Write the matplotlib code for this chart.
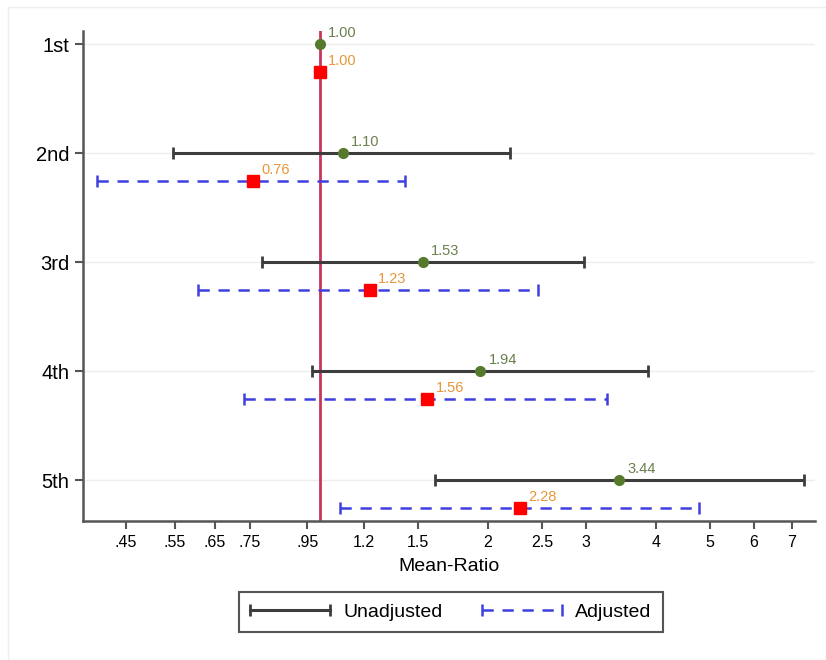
import numpy as np
import matplotlib
matplotlib.use("Agg")
from matplotlib import pyplot as plt
from matplotlib.patches import Rectangle
from matplotlib.lines import Line2D
from matplotlib.legend_handler import HandlerLine2D

plt.rcParams['font.family'] = ['Liberation Sans', 'DejaVu Sans']

# quintile groups, top to bottom
groups = ["1st", "2nd", "3rd", "4th", "5th"]

# unadjusted mean ratios and 95% CI (1st is the reference)
unadj_est = [1.00, 1.10, 1.53, 1.94, 3.44]
unadj_lo = [np.nan, 0.547, 0.790, 0.968, 1.608]
unadj_hi = [np.nan, 2.19, 2.97, 3.88, 7.37]

# adjusted mean ratios and 95% CI
adj_est = [1.00, 0.76, 1.23, 1.56, 2.28]
adj_lo = [np.nan, 0.399, 0.605, 0.731, 1.087]
adj_hi = [np.nan, 1.42, 2.46, 3.27, 4.78]

xticks = [0.45, 0.55, 0.65, 0.75, 0.95, 1.2, 1.5, 2, 2.5, 3, 4, 5, 6, 7]
xticklabels = [".45", ".55", ".65", ".75", ".95", "1.2", "1.5", "2", "2.5", "3", "4", "5", "6", "7"]

FIG_W, FIG_H = 826, 660
fig = plt.figure(figsize=(FIG_W / 100, FIG_H / 100), dpi=100)
fig.patches.append(Rectangle((8 / FIG_W, 0.0), 1 - 8 / FIG_W, 1 - 7 / FIG_H, transform=fig.transFigure,
                             fill=False, edgecolor="#eeeeee", linewidth=1))
ax = fig.add_axes([83 / FIG_W, 1 - 521 / FIG_H, (815 - 83) / FIG_W, (521 - 31) / FIG_H])

OFFSET = 0.26
ypos = np.arange(len(groups))
ypos_adj = ypos + OFFSET

UNADJ_COLOR = "#3d3d3d"
ADJ_COLOR = "#3f3fe0"
GREEN = "#567a2c"
RED = "#ff0000"
DASH = (0, (4.5, 3.5))

# horizontal grid at the group rows
for y in ypos:
    ax.axhline(y, color="#eeeeee", linewidth=1, zorder=0)

ax.axvline(1.0, color="#c8365e", linewidth=2, zorder=2)

u_est = np.array(unadj_est)
a_est = np.array(adj_est)
u_err = np.array([u_est - np.array(unadj_lo), np.array(unadj_hi) - u_est])
a_err = np.array([a_est - np.array(adj_lo), np.array(adj_hi) - a_est])

eb1 = ax.errorbar(u_est, ypos, xerr=u_err, fmt="none", ecolor=UNADJ_COLOR, elinewidth=2.2,
                  capsize=4.5, capthick=2, zorder=3)
eb2 = ax.errorbar(a_est, ypos_adj, xerr=a_err, fmt="none", ecolor=ADJ_COLOR, elinewidth=1.8,
                  capsize=4.5, capthick=1.8, zorder=3)
eb2[2][0].set_linestyle(DASH)

ax.plot(u_est, ypos, "o", color=GREEN, markersize=7, zorder=4)
ax.plot(a_est, ypos_adj, "s", color=RED, markersize=8, zorder=4)

for x, y in zip(unadj_est, ypos):
    ax.annotate(f"{x:.2f}", (x, y), xytext=(6, 3), textcoords="offset points",
                fontsize=10.5, color="#6a7f4c", va="bottom", ha="left")
for x, y in zip(adj_est, ypos_adj):
    ax.annotate(f"{x:.2f}", (x, y), xytext=(6, 3), textcoords="offset points",
                fontsize=10.5, color="#e8963a", va="bottom", ha="left")

ax.set_xscale("log")
ax.set_xlim(0.377, 7.71)
ax.set_ylim(4.376, -0.12)
ax.set_xticks(xticks)
ax.set_xticklabels(xticklabels, fontsize=11.5)
ax.minorticks_off()
ax.set_yticks(ypos)
ax.set_yticklabels(groups, fontsize=14.5)
ax.tick_params(axis="both", length=6, width=1.5, color="#555555", pad=4)
ax.set_xlabel("Mean-Ratio", fontsize=14, labelpad=6)

for side in ["top", "right"]:
    ax.spines[side].set_visible(False)
for side in ["left", "bottom"]:
    ax.spines[side].set_color("#555555")
    ax.spines[side].set_linewidth(1.8)

# legend keys: horizontal bar with caps at both ends
h_unadj = Line2D([], [], color=UNADJ_COLOR, linewidth=2.2, marker="|", markersize=9,
                 markeredgewidth=2)
h_adj = Line2D([], [], color=ADJ_COLOR, linewidth=1.8, linestyle=DASH, marker="|",
               markersize=9, markeredgewidth=1.8)
leg = fig.legend(handles=[h_unadj, h_adj], labels=["Unadjusted", "Adjusted"], loc="center",
                 bbox_to_anchor=(451 / FIG_W, 1 - 612 / FIG_H), ncol=2, fontsize=14,
                 handlelength=4.1, handletextpad=0.7, columnspacing=2.0, fancybox=False,
                 edgecolor="#555555", framealpha=1, borderpad=0.6,
                 handler_map={Line2D: HandlerLine2D(marker_pad=0, numpoints=2)})
leg.get_frame().set_linewidth(1.5)

fig.savefig("out.png", dpi=100)
plt.close()
